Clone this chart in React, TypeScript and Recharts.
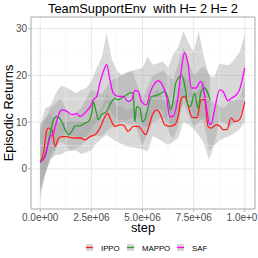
import React from "react";
import {
  Area,
  ComposedChart,
  CartesianGrid,
  Line,
  ReferenceArea,
  ReferenceLine,
  XAxis,
  YAxis,
} from "recharts";

// steps are in millions
const ippoSteps = [0, 0.16, 0.33, 0.41, 0.57, 0.73, 0.9, 1.06, 1.3, 1.62, 1.95, 2.19, 2.44, 2.68, 2.92, 3.17, 3.3, 3.45, 3.65, 3.9, 4.06, 4.3, 4.55, 4.79, 4.95, 5.16, 5.36, 5.52, 5.71, 5.88, 6.09, 6.33, 6.58, 6.74, 6.9, 7.06, 7.22, 7.43, 7.66, 7.87, 8.04, 8.2, 8.36, 8.6, 8.77, 8.93, 9.12, 9.34, 9.5, 9.74, 10.0];
const ippoMean = [1.4, 3.4, 8.4, 8.7, 8.4, 4.8, 6.6, 6.9, 6.9, 6.6, 6.6, 6.2, 6.9, 7.3, 8.7, 11.2, 11.9, 10.5, 9.1, 9.4, 9.4, 8.0, 9.1, 9.1, 8.4, 7.3, 9.8, 11.9, 12.6, 11.6, 9.4, 9.1, 9.4, 11.2, 15.1, 15.5, 13.7, 11.0, 10.9, 14.8, 14.8, 9.1, 8.7, 9.4, 9.2, 8.4, 8.4, 10.9, 10.1, 10.5, 14.4];

const mappoSteps = [0, 0.24, 0.49, 0.65, 0.81, 1.01, 1.22, 1.38, 1.54, 1.71, 1.95, 2.19, 2.35, 2.52, 2.6, 2.73, 2.84, 3.0, 3.25, 3.33, 3.49, 3.65, 3.81, 4.03, 4.22, 4.42, 4.55, 4.63, 4.71, 4.87, 5.0, 5.11, 5.28, 5.44, 5.6, 5.84, 6.09, 6.25, 6.37, 6.49, 6.62, 6.79, 6.9, 7.06, 7.22, 7.34, 7.55, 7.71, 7.87, 8.04, 8.2, 8.31];
const mappoMean = [1.4, 3.0, 7.6, 10.5, 11.2, 10.5, 8.4, 7.3, 8.0, 9.2, 9.2, 9.8, 10.1, 11.9, 14.4, 12.3, 10.5, 11.6, 12.3, 13.0, 14.4, 15.1, 14.8, 15.3, 15.8, 16.3, 16.2, 10.1, 13.3, 13.0, 10.1, 10.5, 13.3, 15.5, 15.6, 16.0, 16.6, 15.1, 12.6, 14.4, 18.3, 19.6, 20.1, 18.0, 13.7, 13.3, 16.2, 13.0, 16.6, 17.3, 16.2, 14.8];

const safSteps = [0, 0.24, 0.49, 0.62, 0.73, 0.9, 1.06, 1.3, 1.54, 1.79, 1.95, 2.19, 2.44, 2.6, 2.76, 2.92, 3.12, 3.25, 3.41, 3.57, 3.81, 4.06, 4.3, 4.47, 4.63, 4.79, 4.95, 5.2, 5.36, 5.6, 5.76, 5.93, 6.17, 6.33, 6.49, 6.74, 6.9, 7.06, 7.22, 7.39, 7.63, 7.83, 7.96, 8.12, 8.28, 8.36, 8.52, 8.77, 8.93, 9.17, 9.34, 9.58, 9.74, 10.0];
const safMean = [1.4, 2.6, 6.9, 7.3, 9.0, 11.6, 12.6, 12.3, 11.6, 11.8, 11.2, 12.0, 13.3, 14.8, 15.5, 18.4, 21.2, 22.3, 19.0, 16.2, 15.5, 15.5, 14.4, 14.8, 16.8, 16.6, 14.4, 13.7, 16.2, 18.3, 18.9, 18.3, 15.5, 11.2, 11.2, 15.5, 21.2, 24.9, 22.6, 17.3, 17.3, 18.7, 17.6, 13.3, 9.6, 9.6, 12.6, 16.9, 16.6, 14.6, 15.1, 15.8, 16.9, 21.6];

// ribbons
const bandSteps = [0, 0.25, 0.5, 0.75, 1, 1.25, 1.5, 1.75, 2, 2.25, 2.5, 2.75, 3, 3.25, 3.5, 3.75, 4, 4.25, 4.5, 4.75, 5, 5.25, 5.5, 5.75, 6, 6.25, 6.5, 6.75, 7, 7.25, 7.5, 7.75, 8, 8.25, 8.5, 8.75, 9, 9.25, 9.5, 9.75, 10];
const ippoLow = [-6.6, -1, 2, 3, 3, 3.7, 3.8, 4, 3.2, 3.5, 4, 5.5, 6.5, 7.3, 6.5, 5.8, 5.3, 4.8, 4.6, 4.4, 4.2, 3.7, 7, 6.5, 5.8, 5.1, 5.8, 6.6, 10, 9.5, 8.5, 7.2, 5.5, 2, 5, 6, 6.6, 7, 7.6, 8.5, 10.1];
const ippoHigh = [9.4, 11, 12, 10, 10, 10, 10, 10, 10, 10, 10.5, 11.5, 13, 16, 15, 13.5, 13.5, 12.5, 13, 13, 12, 12, 16, 17, 15, 13.5, 14, 16, 20, 19, 15.5, 17, 19.5, 15, 14, 13.5, 13, 14.5, 14.5, 15, 19];
const safLow = [-4, -1, 2, 4, 7, 7.5, 7, 7, 6.5, 7, 8.5, 10, 12, 14, 12, 10.5, 10.5, 9.5, 9.5, 11, 9.5, 9, 11, 13, 12.5, 8, 6.5, 9, 15, 15, 11, 11, 10, 4, 5, 10, 10, 9, 10, 11, 15];
const safHigh = [9.4, 13, 13.5, 16, 17.8, 17.5, 16.9, 16.2, 16.9, 17.3, 18.7, 21.5, 23.7, 29, 23.5, 21, 20.1, 20.8, 21, 21.3, 21.6, 24, 22.3, 22.6, 23, 21.6, 24.5, 26, 29.5, 27, 25, 29.5, 24, 20, 19.5, 22.5, 22.3, 22.2, 23.5, 25, 28.7];
const mappoBandSteps = [0, 0.5, 1.0, 1.5, 2.0, 2.5, 3.0, 3.5, 4.0, 4.5, 5.0, 5.5, 6.0, 6.5, 7.0, 7.5, 8.0, 8.3];
const mappoLow = [-5, 3, 6, 4, 5, 7, 7, 9, 10, 11, 5, 10, 11, 9, 14, 9, 11, 9];
const mappoHigh = [8, 13, 15, 11, 13, 17, 16, 19, 20, 21, 15, 20, 21, 19, 26, 20, 22, 20];

const xTicks = [0, 2.5, 5, 7.5, 10];
const xTickLabels = ["0.0e+00", "2.5e+06", "5.0e+06", "7.5e+06", "1.0e+07"];
const yTicks = [0, 10, 20, 30];
const xMinor = [1.25, 3.75, 6.25, 8.75];
const yMinor = [-5, 5, 15, 25];

const seriesNames = ["IPPO", "MAPPO", "SAF"];
const colors = ["#ff1f1f", "#2e9a2e", "#ff00ff"];

const X_DOMAIN: [number, number] = [-0.45, 10.5];
const Y_DOMAIN: [number, number] = [-8.6, 32.5];
const FONT = '"Liberation Sans", Arial, sans-serif';

const toLine = (steps: number[], vals: number[]) =>
  steps.map((s, i) => ({ step: s, value: vals[i] }));
const toBand = (steps: number[], lo: number[], hi: number[]) =>
  steps.map((s, i) => ({ step: s, range: [lo[i], hi[i]] }));

export default function App() {
  const lines = [
    toLine(ippoSteps, ippoMean),
    toLine(mappoSteps, mappoMean),
    toLine(safSteps, safMean),
  ];
  const bands = [
    toBand(bandSteps, ippoLow, ippoHigh),
    toBand(mappoBandSteps, mappoLow, mappoHigh),
    toBand(bandSteps, safLow, safHigh),
  ];

  const legendX = [86, 127, 177];

  return (
    <div
      style={{
        position: "absolute",
        left: 0,
        top: 0,
        width: 258,
        height: 258,
        background: "#fff",
        fontFamily: FONT,
      }}
    >
      <ComposedChart
        width={258}
        height={258}
        margin={{ top: 17, right: 3, bottom: 13, left: 0 }}
      >
        <CartesianGrid stroke="#e5e5e5" strokeWidth={0.9} />
        {xMinor.map((v) => (
          <ReferenceLine key={"vx" + v} x={v} stroke="#f0f0f0" strokeWidth={0.5} />
        ))}
        {yMinor.map((v) => (
          <ReferenceLine key={"hy" + v} y={v} stroke="#f0f0f0" strokeWidth={0.5} />
        ))}
        <XAxis
          type="number"
          dataKey="step"
          domain={X_DOMAIN}
          allowDataOverflow
          ticks={xTicks}
          tickFormatter={(v: number) => xTickLabels[xTicks.indexOf(v)] ?? ""}
          height={36}
          tickSize={3}
          tick={{ fill: "#4d4d4d", fontSize: 10, fontFamily: FONT }}
          axisLine={false}
          tickLine={{ stroke: "#b3b3b3" }}
          interval={0}
        />
        <YAxis
          type="number"
          domain={Y_DOMAIN}
          allowDataOverflow
          ticks={yTicks}
          width={31}
          tickSize={3}
          tickMargin={1}
          tick={{ fill: "#4d4d4d", fontSize: 10, fontFamily: FONT }}
          axisLine={false}
          tickLine={{ stroke: "#b3b3b3" }}
        />
        {bands.map((d, i) => (
          <Area
            key={"band" + i}
            data={d}
            dataKey="range"
            type="linear"
            stroke="none"
            fill="#999999"
            fillOpacity={0.38}
            isAnimationActive={false}
          />
        ))}
        {lines.map((d, i) => (
          <Line
            key={"line" + i}
            data={d}
            dataKey="value"
            name={seriesNames[i]}
            type="monotone"
            stroke={colors[i]}
            strokeWidth={1.3}
            dot={false}
            isAnimationActive={false}
          />
        ))}
        <ReferenceArea
          x1={X_DOMAIN[0]}
          x2={X_DOMAIN[1]}
          y1={Y_DOMAIN[0]}
          y2={Y_DOMAIN[1]}
          fill="none"
          stroke="#b3b3b3"
          strokeWidth={1}
          ifOverflow="visible"
        />
      </ComposedChart>
      <svg
        width={258}
        height={258}
        style={{ position: "absolute", left: 0, top: 0, pointerEvents: "none" }}
        fontFamily={FONT}
      >
        <text x={143} y={13} textAnchor="middle" fontSize={12.8} fill="#000">
          {"TeamSupportEnv\u00a0\u00a0with H= 2 H= 2"}
        </text>
        <text
          x={0}
          y={0}
          transform="translate(13,113) rotate(-90)"
          textAnchor="middle"
          fontSize={12.8}
          fill="#000"
        >
          Episodic Returns
        </text>
        <text x={143} y={232} textAnchor="middle" fontSize={12.8} fill="#000">
          step
        </text>
        {seriesNames.map((n, i) => (
          <g key={n}>
            <rect x={legendX[i]} y={244} width={7} height={7} fill="#d9d9d9" />
            <line
              x1={legendX[i]}
              x2={legendX[i] + 7}
              y1={247.5}
              y2={247.5}
              stroke={colors[i]}
              strokeWidth={1.4}
            />
            <text x={legendX[i] + 15} y={250.5} fontSize={7.8} fill="#000">
              {n}
            </text>
          </g>
        ))}
      </svg>
    </div>
  );
}
